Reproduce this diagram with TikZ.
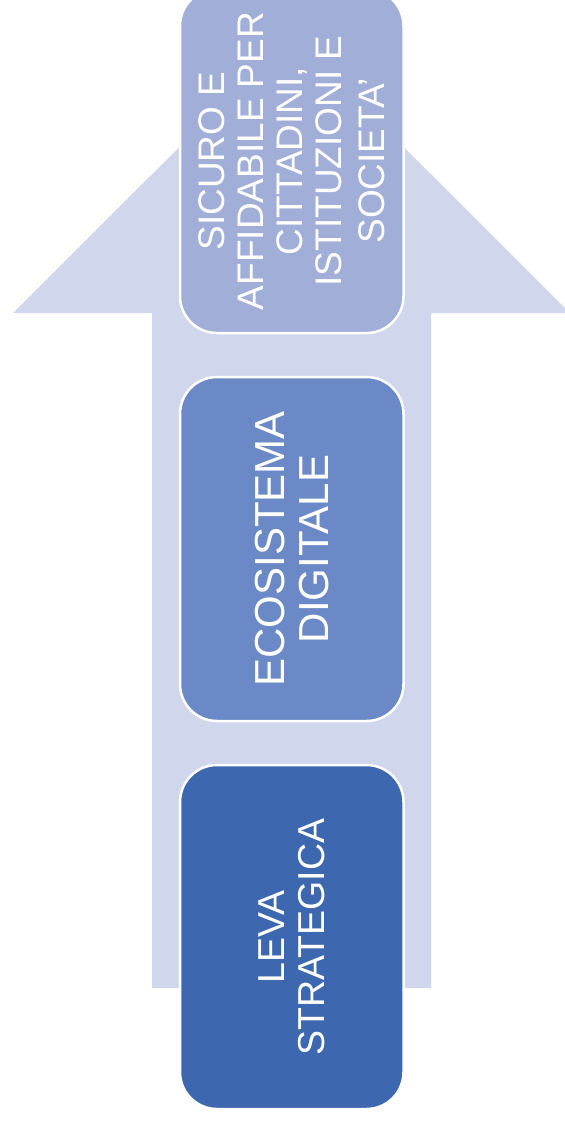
\documentclass[tikz,border=0pt]{standalone}
\usepackage{fontspec}
\setmainfont{Liberation Sans}
\definecolor{arrowcol}{RGB}{208,214,235}
\definecolor{boxa}{RGB}{160,174,216}
\definecolor{boxb}{RGB}{106,137,198}
\definecolor{boxc}{RGB}{61,104,176}
\tikzset{
  stagebox/.style={draw=white, line width=2.5pt, rounded corners=37pt,
    rotate=90, minimum width=344pt, minimum height=223.5pt,
    text=white, align=center, inner sep=0pt}
}
\begin{document}
\begin{tikzpicture}[x=1pt,y=-1pt]
\useasboundingbox (0,0) rectangle (565,1122);
\clip (0,0) rectangle (565,1122);
\fill[arrowcol] (152,988) -- (431,988) -- (431,313) -- (570,313) -- (291.5,35)
  -- (13,313) -- (152,313) -- cycle;
\node[stagebox, fill=boxa, font=\fontsize{37}{39}\selectfont] (top) at (291.75,161)
  {SICURO E\\AFFIDABILE PER\\CITTADINI,\\ISTITUZIONI E\\[4pt]SOCIETA’};
\node[stagebox, fill=boxb, font=\fontsize{42}{44}\selectfont] (mid) at (291.75,549)
  {ECOSISTEMA\\DIGITALE};
\node[stagebox, fill=boxc, font=\fontsize{37.5}{39.5}\selectfont] (bot) at (291.75,937)
  {LEVA\\STRATEGICA};
\end{tikzpicture}
\end{document}
